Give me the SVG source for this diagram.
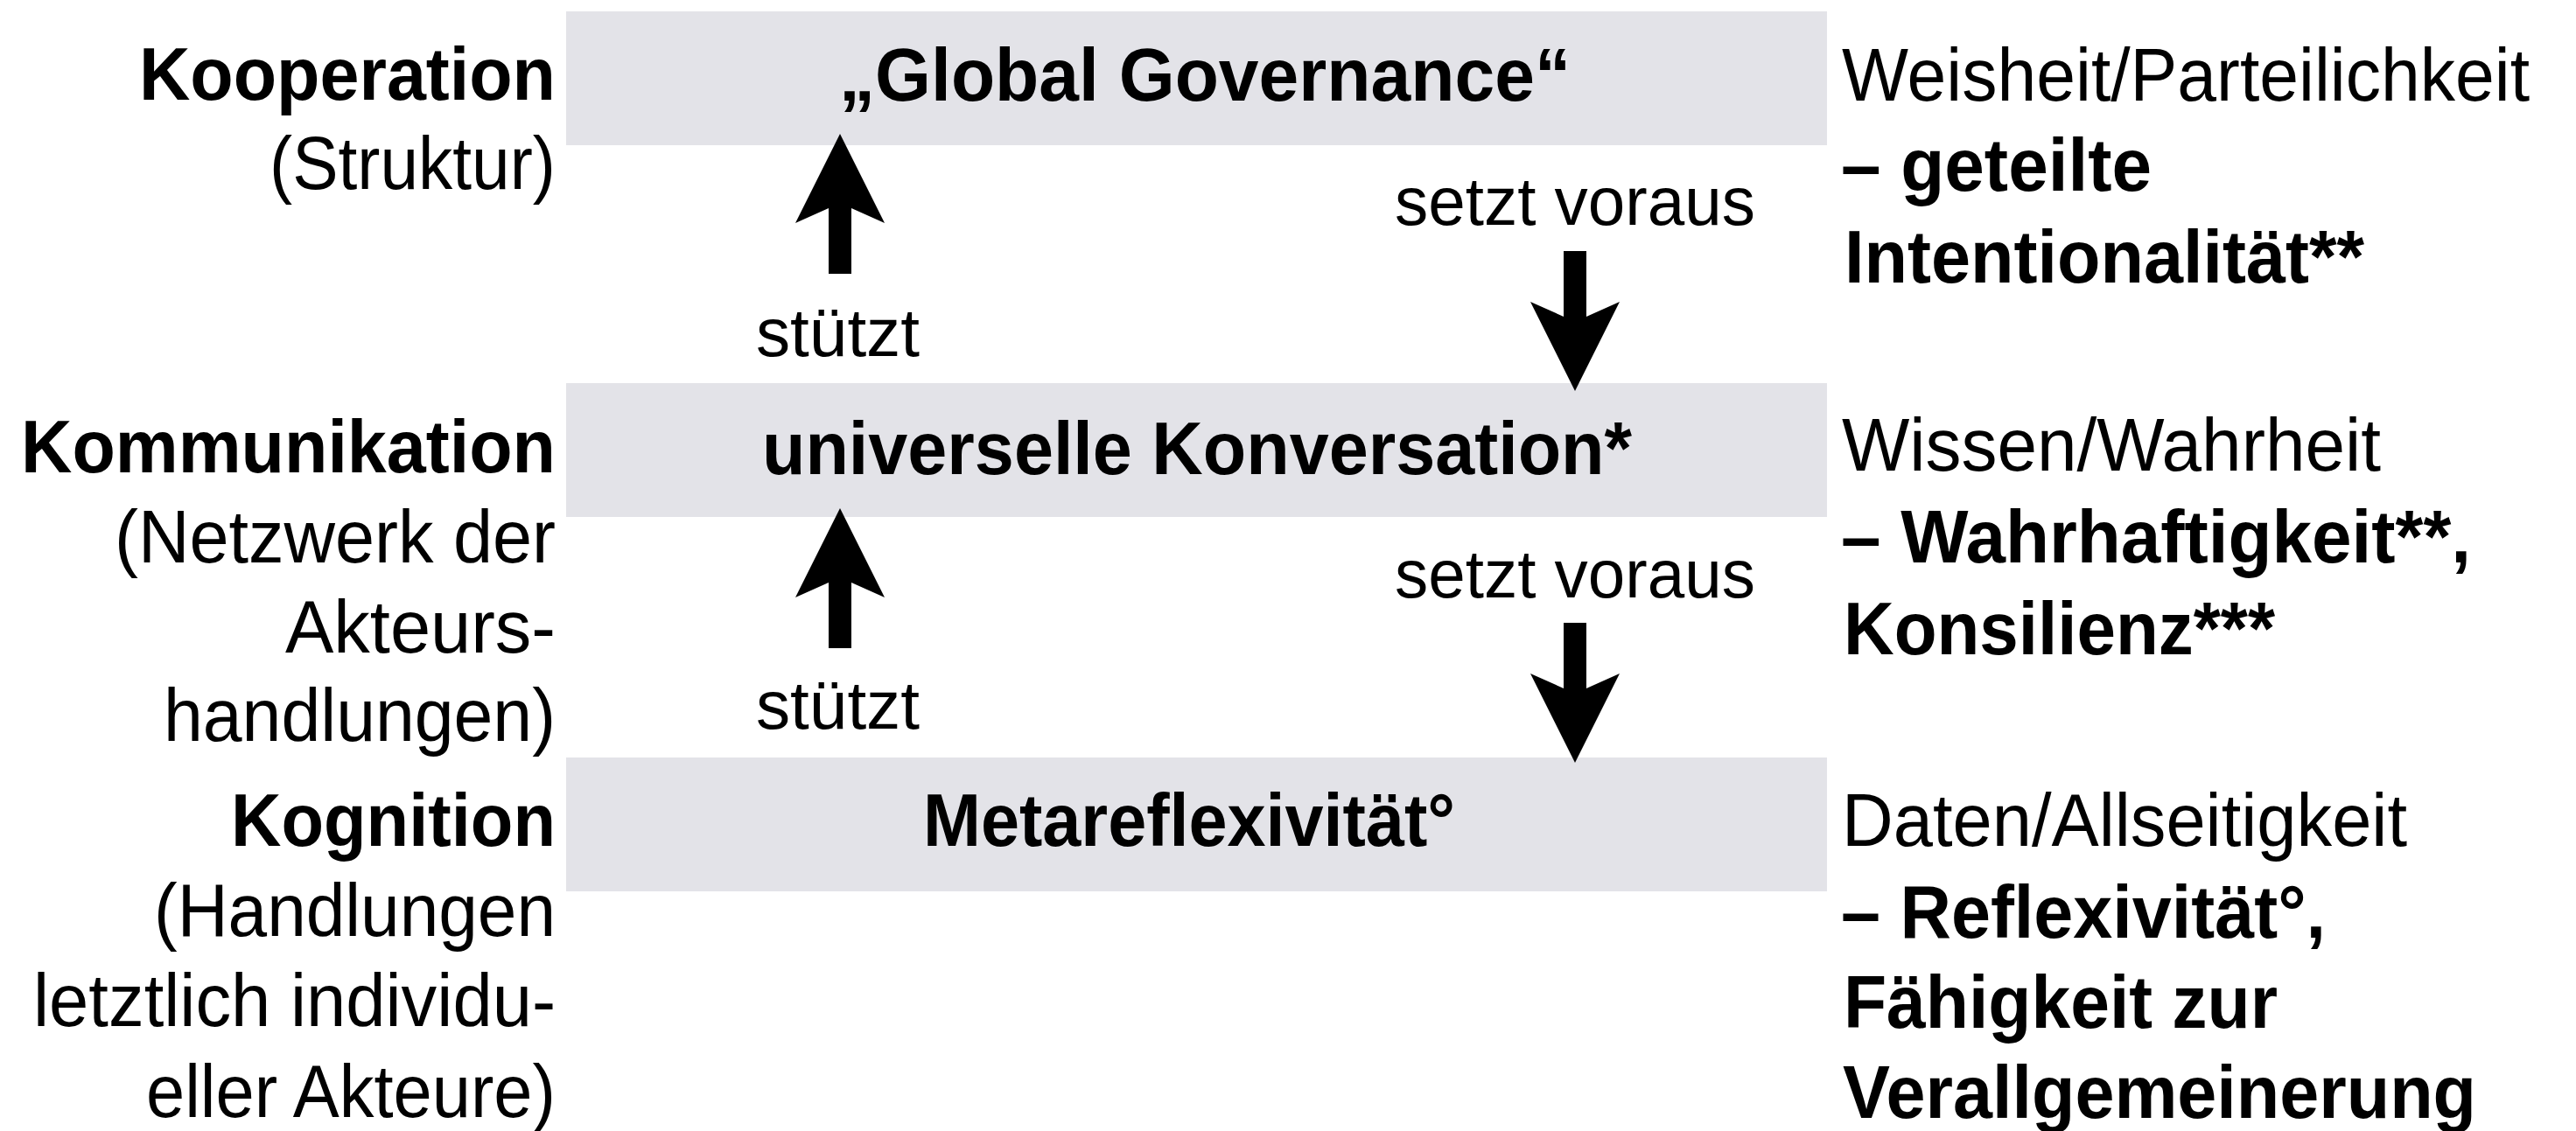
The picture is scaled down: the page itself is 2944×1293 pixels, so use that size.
<svg xmlns="http://www.w3.org/2000/svg" width="2944" height="1293" viewBox="0 0 2944 1293">
<style>
text{font-family:"Liberation Sans",Arial,Helvetica,sans-serif;fill:#000;font-size:85px}
.b{font-weight:bold}
.r{font-weight:normal}
.end{text-anchor:end}
.lbl{font-size:77px}
.box{fill:#e3e3e8}
.arr{fill:#000}
</style>
<rect width="2944" height="1293" fill="#fff"/>

<g id="node-global-governance">
<rect class="box" x="647" y="13" width="1441" height="153"/>
<text class="b" x="959" y="115" textLength="836" lengthAdjust="spacingAndGlyphs">„Global Governance“</text>
</g>
<g id="node-universelle-konversation">
<rect class="box" x="647" y="438" width="1441" height="153"/>
<text class="b" x="871" y="542" textLength="994" lengthAdjust="spacingAndGlyphs">universelle Konversation*</text>
</g>
<g id="node-metareflexivitaet">
<rect class="box" x="647" y="866" width="1441" height="153"/>
<text class="b" x="1055" y="967" textLength="608" lengthAdjust="spacingAndGlyphs">Metareflexivität°</text>
</g>

<g id="left-kooperation">
<text class="b end" x="635" y="114" textLength="476" lengthAdjust="spacingAndGlyphs">Kooperation</text>
<text class="r end" x="635" y="216" textLength="327" lengthAdjust="spacingAndGlyphs">(Struktur)</text>
</g>
<g id="left-kommunikation">
<text class="b end" x="635" y="540" textLength="611" lengthAdjust="spacingAndGlyphs">Kommunikation</text>
<text class="r end" x="635" y="643" textLength="504" lengthAdjust="spacingAndGlyphs">(Netzwerk der</text>
<text class="r end" x="635" y="746" textLength="309" lengthAdjust="spacingAndGlyphs">Akteurs-</text>
<text class="r end" x="635" y="847" textLength="448" lengthAdjust="spacingAndGlyphs">handlungen)</text>
</g>
<g id="left-kognition">
<text class="b end" x="635" y="967" textLength="371" lengthAdjust="spacingAndGlyphs">Kognition</text>
<text class="r end" x="635" y="1070" textLength="459" lengthAdjust="spacingAndGlyphs">(Handlungen</text>
<text class="r end" x="635" y="1173" textLength="597" lengthAdjust="spacingAndGlyphs">letztlich individu-</text>
<text class="r end" x="635" y="1277" textLength="468" lengthAdjust="spacingAndGlyphs">eller Akteure)</text>
</g>

<g id="right-weisheit">
<text class="r" x="2105" y="115" textLength="786" lengthAdjust="spacingAndGlyphs">Weisheit/Parteilichkeit</text>
<text class="b" x="2104" y="218" textLength="355" lengthAdjust="spacingAndGlyphs">– geteilte</text>
<text class="b" x="2108" y="323" textLength="594" lengthAdjust="spacingAndGlyphs">Intentionalität**</text>
</g>
<g id="right-wissen">
<text class="r" x="2105" y="538" textLength="616" lengthAdjust="spacingAndGlyphs">Wissen/Wahrheit</text>
<text class="b" x="2104" y="643" textLength="720" lengthAdjust="spacingAndGlyphs">– Wahrhaftigkeit**,</text>
<text class="b" x="2107" y="748" textLength="493" lengthAdjust="spacingAndGlyphs">Konsilienz***</text>
</g>
<g id="right-daten">
<text class="r" x="2105" y="967" textLength="646" lengthAdjust="spacingAndGlyphs">Daten/Allseitigkeit</text>
<text class="b" x="2104" y="1072" textLength="554" lengthAdjust="spacingAndGlyphs">– Reflexivität°,</text>
<text class="b" x="2107" y="1175" textLength="496" lengthAdjust="spacingAndGlyphs">Fähigkeit zur</text>
<text class="b" x="2106" y="1278" textLength="724" lengthAdjust="spacingAndGlyphs">Verallgemeinerung</text>
</g>

<g id="connectors">
<path class="arr" d="M960,153 L1011,255 L973,238 L973,313 L947,313 L947,238 L909,255 Z"/>
<path class="arr" d="M960,581 L1011,683 L973,666 L973,741 L947,741 L947,666 L909,683 Z"/>
<path class="arr" d="M1800,447 L1851,345 L1813,362 L1813,287 L1787,287 L1787,362 L1749,345 Z"/>
<path class="arr" d="M1800,872 L1851,770 L1813,787 L1813,712 L1787,712 L1787,787 L1749,770 Z"/>
<text class="r lbl" x="864" y="407" textLength="187" lengthAdjust="spacingAndGlyphs">stützt</text>
<text class="r lbl" x="864" y="833" textLength="187" lengthAdjust="spacingAndGlyphs">stützt</text>
<text class="r lbl" x="1594" y="257" textLength="412" lengthAdjust="spacingAndGlyphs">setzt voraus</text>
<text class="r lbl" x="1594" y="683" textLength="412" lengthAdjust="spacingAndGlyphs">setzt voraus</text>
</g>
</svg>
